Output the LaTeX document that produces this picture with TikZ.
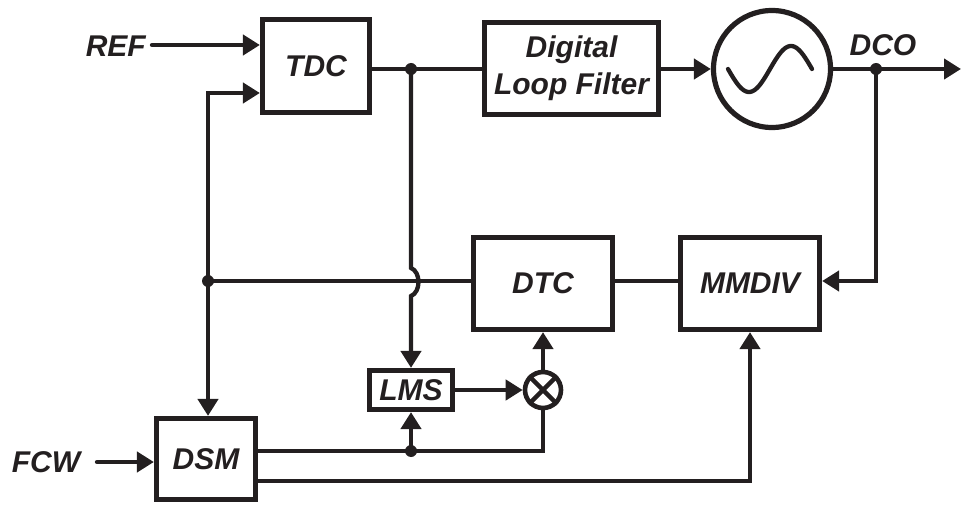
\documentclass[tikz,border=0pt]{standalone}
\usepackage{fontspec}
\setmainfont{Liberation Sans}
\usetikzlibrary{arrows.meta}
\definecolor{ink}{HTML}{231F20}
\newcommand\lblfont{\fontsize{30}{37}\selectfont\bfseries\itshape}
\begin{document}
\begin{tikzpicture}[x=1pt,y=-1pt,
  box/.style={draw=ink,line width=5.2pt,rectangle,inner sep=0pt,font=\lblfont,text=ink},
  wire/.style={draw=ink,line width=4.3pt},
  arr/.style={wire,-{Triangle[length=17pt,width=20pt]}},
  dot/.style={circle,fill=ink,inner sep=0pt,minimum size=12pt},
  lab/.style={font=\lblfont,text=ink,inner sep=0pt}]
\useasboundingbox (0,0) rectangle (961,505);
% blocks
\node[box,minimum width=107pt,minimum height=93pt] (TDC) at (316,66) {TDC};
\node[box,minimum width=174pt,minimum height=92pt,align=center] (DLF) at (571.5,68.5) {Digital\\Loop Filter};
\node[circle,draw=ink,line width=5.2pt,minimum size=117pt,inner sep=0pt] (OSC) at (772,69) {};
\draw[wire,line cap=round] plot[domain=0:360,samples=60,smooth] ({728+\x/360*84},{69+23*sin(\x)});
\node[box,minimum width=139pt,minimum height=92pt] (DTC) at (543,283.5) {DTC};
\node[box,minimum width=139pt,minimum height=92pt] (MMDIV) at (750,283.5) {MMDIV};
\node[box,minimum width=83pt,minimum height=39pt] (LMS) at (411,390) {LMS};
\node[box,minimum width=99pt,minimum height=81pt] (DSM) at (206,459) {DSM};
\node[circle,draw=ink,line width=4.6pt,minimum size=36pt,inner sep=0pt] (MUL) at (543,390) {};
\draw[wire] (MUL.north east) -- (MUL.south west);
\draw[wire] (MUL.north west) -- (MUL.south east);
% labels
\node[lab,anchor=east] (REF) at (146,46) {REF};
\node[lab] (DCO) at (883,45) {DCO};
\node[lab] (FCW) at (46,462) {FCW};
% coordinates
\coordinate (refin) at (152,45);
\coordinate (fcwin) at (97,462);
\coordinate (j1) at (208,281);
\coordinate (t2) at (208,93);
\coordinate (j2) at (411,69);
\coordinate (j3) at (876,69);
\coordinate (j4) at (411,451);
\coordinate (h1) at (411,268);
\coordinate (h2) at (411,296);
\coordinate (q) at (750,481);
\coordinate (out) at (961,69);
% connectors
\draw[arr,line cap=round] (refin) -- (refin -| TDC.west);
\draw[arr,line cap=round] (fcwin) -- (fcwin -| DSM.west);
\draw[arr] (j1) -- (t2) -- (t2 -| TDC.west);
\draw[arr] (j1) -- (j1 |- DSM.north);
\draw[wire] (j1) -- (j1 -| DTC.west);
\draw[wire] (TDC.east |- j2) -- (DLF.west |- j2);
\draw[arr] (DLF.east |- j2) -- (OSC.west);
\draw[arr] (OSC.east) -- (out);
\draw[arr] (j3) |- (MMDIV.east |- j1);
\draw[wire] (DTC.east |- j1) -- (MMDIV.west |- j1);
\draw[arr] (j2) -- (h1) .. controls (421,272) and (421,292) .. (h2) -- (LMS.north);
\draw[wire] (DSM.east |- j4) -| (MUL.south);
\draw[arr] (j4) -- (LMS.south);
\draw[arr] (LMS.east) -- (MUL.west);
\draw[arr] (MUL.north) -- (DTC.south);
\draw[arr] (DSM.east |- q) -| (MMDIV.south);
% junction dots
\node[dot] (dj1) at (j1) {};
\node[dot] (dj2) at (j2) {};
\node[dot] (dj3) at (j3) {};
\node[dot] (dj4) at (j4) {};
\end{tikzpicture}
\end{document}
